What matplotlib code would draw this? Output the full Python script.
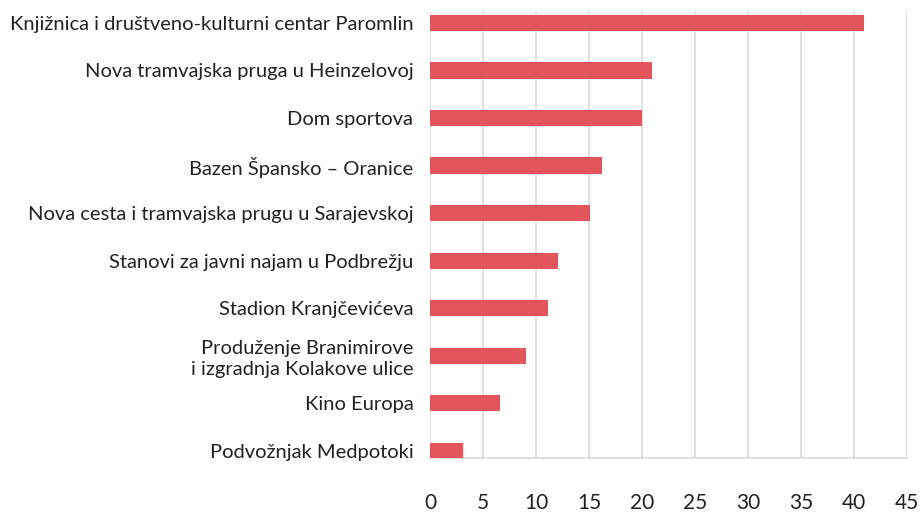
import matplotlib
matplotlib.use("Agg")
import matplotlib.pyplot as plt

categories = [
    "Knjižnica i društveno-kulturni centar Paromlin",
    "Nova tramvajska pruga u Heinzelovoj",
    "Dom sportova",
    "Bazen Špansko – Oranice",
    "Nova cesta i tramvajska prugu u Sarajevskoj",
    "Stanovi za javni najam u Podbrežju",
    "Stadion Kranjčevićeva",
    "Produženje Branimirove\ni izgradnja Kolakove ulice",
    "Kino Europa",
    "Podvožnjak Medpotoki",
]
values = [40.9, 20.9, 20.0, 16.2, 15.1, 12.1, 11.1, 9.1, 6.6, 3.1]
xticks = [0, 5, 10, 15, 20, 25, 30, 35, 40, 45]

plt.rcParams['font.family'] = ['Lato', 'DejaVu Sans']

fig = plt.figure(figsize=(9.24, 5.15), dpi=100)
ax = fig.add_axes([430/924, 1 - 458/515, 477/924, (458 - 10.5)/515])

ypos = list(range(len(categories)))
ax.barh(ypos, values, height=0.34, color="#E3555A", zorder=3)
ax.set_ylim(9.15, -0.26)
ax.set_xlim(0, 45)
ax.set_xticks(xticks)
ax.set_xticklabels([str(t) for t in xticks], fontsize=15, color="#222222")
ax.set_yticks(ypos)
ax.set_yticklabels(categories, fontsize=14.5, color="#222222", linespacing=1.3)
ax.tick_params(axis='y', length=0, pad=12)
ax.tick_params(axis='x', length=0, pad=25)
ax.xaxis.grid(True, color="#DADADA", linewidth=1.2, zorder=0)
for s in ["top", "right", "left"]:
    ax.spines[s].set_visible(False)
ax.spines["bottom"].set_color("#D9D9D9")
ax.spines["bottom"].set_linewidth(1.2)

fig.savefig("out.png", dpi=100)
